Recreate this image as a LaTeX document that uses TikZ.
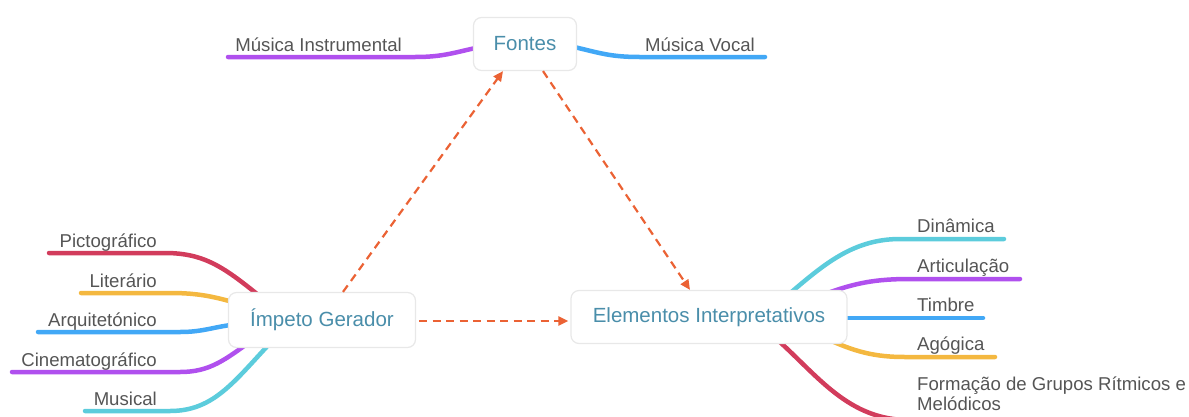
\documentclass[tikz,border=0pt]{standalone}
\usepackage{fontspec}
\setmainfont{Liberation Sans}
\usetikzlibrary{arrows.meta}
\definecolor{cpurple}{HTML}{B050EE}
\definecolor{cblue}{HTML}{42A8F6}
\definecolor{cred}{HTML}{D23C5C}
\definecolor{cyellow}{HTML}{F4B840}
\definecolor{ccyan}{HTML}{5CCCDC}
\definecolor{corange}{HTML}{EB6234}
\definecolor{ctitle}{HTML}{4A8EAA}
\definecolor{clabel}{HTML}{555555}
\begin{document}
\begin{tikzpicture}[x=1pt,y=-1pt,
  mainbox/.style={draw=black!9, line width=1.2pt, fill=white, rounded corners=8pt,
    text=ctitle, font=\fontsize{20.5}{24}\selectfont, inner sep=0pt},
  branch/.style={line width=4.5pt, line cap=round},
  lbl/.style={text=clabel, font=\fontsize{18.6}{20}\selectfont, inner sep=0pt},
  rel/.style={corange, line width=2.2pt, dash pattern=on 8pt off 5.5pt,
    -{Triangle[length=10pt,width=9pt]}}]
\useasboundingbox (0,0) rectangle (1189,416);

% branch underlines (drawn first, boxes cover their inner ends)
\coordinate (mi) at (228,57);
\coordinate (mv) at (765,57);
\draw[branch,cpurple] (mi) -- (415,57) .. controls (445,57) and (455,52) .. (485,46);
\draw[branch,cblue] (570,46) .. controls (600,53) and (610,57) .. (640,57) -- (mv);

\coordinate (pic) at (49,253);
\coordinate (lit) at (81,293);
\coordinate (arq) at (38,332);
\coordinate (cin) at (12,372);
\coordinate (mus) at (85,411);
\draw[branch,cred] (pic) -- (165,253) .. controls (205,253) and (225,268) .. (262,298);
\draw[branch,cyellow] (lit) -- (170,293) .. controls (200,293) and (215,297) .. (240,304);
\draw[branch,cblue] (arq) -- (180,332) .. controls (205,332) and (215,326) .. (240,324);
\draw[branch,cpurple] (cin) -- (180,372) .. controls (210,372) and (225,360) .. (255,338);
\draw[branch,ccyan] (mus) -- (170,411) .. controls (215,411) and (235,380) .. (275,338);

\coordinate (din) at (1004,239);
\coordinate (art) at (1020,279);
\coordinate (tim) at (983,318);
\coordinate (ago) at (995,357);
\coordinate (for) at (905,420);
\draw[branch,ccyan] (782,300) .. controls (820,268) and (850,239) .. (900,239) -- (din);
\draw[branch,cpurple] (825,294) .. controls (855,283) and (875,279) .. (910,279) -- (art);
\draw[branch,cblue] (835,318) -- (tim);
\draw[branch,cyellow] (825,338) .. controls (855,352) and (875,357) .. (905,357) -- (ago);
\draw[branch,cred] (772,335) .. controls (815,372) and (845,418) .. (for);

% main boxes
\node[mainbox, minimum width=103pt, minimum height=53pt] (fon) at (525,44) {Fontes};
\node[mainbox, minimum width=187pt, minimum height=55pt] (imp) at (322,320) {Ímpeto Gerador};
\node[mainbox, minimum width=276pt, minimum height=53pt] (ele) at (709,317) {Elementos Interpretativos};

% labels
\node[lbl, anchor=base east] (lmi) at (402,51) {Música Instrumental};
\node[lbl, anchor=base west] (lmv) at (645,51) {Música Vocal};
\node[lbl, anchor=base east] (lpic) at (157,247) {Pictográfico};
\node[lbl, anchor=base east] (llit) at (157,287) {Literário};
\node[lbl, anchor=base east] (larq) at (157,326) {Arquitetónico};
\node[lbl, anchor=base east] (lcin) at (157,366) {Cinematográfico};
\node[lbl, anchor=base east] (lmus) at (157,405) {Musical};
\node[lbl, anchor=base west] (ldin) at (917,232) {Dinâmica};
\node[lbl, anchor=base west] (lart) at (917,272) {Articulação};
\node[lbl, anchor=base west] (ltim) at (917,311) {Timbre};
\node[lbl, anchor=base west] (lago) at (917,350) {Agógica};
\node[lbl, anchor=base west, align=left] (lfor) at (917,410) {Formação de Grupos Rítmicos e\\Melódicos};

% relations
\draw[rel] ([xshift=21pt]imp.north) -- ([xshift=-22pt]fon.south);
\draw[rel] ([xshift=18pt]fon.south) -- ([xshift=-19pt]ele.north);
\draw[rel, shorten <=3pt, shorten >=2pt] ([yshift=-1pt]imp.east) -- ([yshift=-1pt]imp.east -| ele.west);
\end{tikzpicture}
\end{document}
